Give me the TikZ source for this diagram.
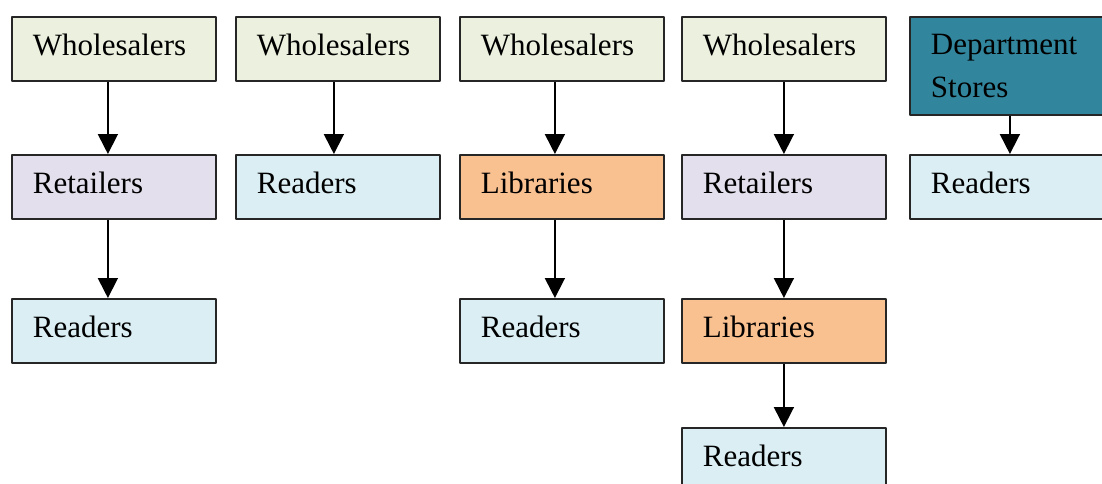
\documentclass[tikz,border=0pt]{standalone}
\usepackage{fontspec}
\setmainfont{Liberation Serif}
\newfontfamily\boxfont{Liberation Serif}
\usetikzlibrary{arrows.meta}
\usetikzlibrary{shapes}
\definecolor{wholefill}{HTML}{EBF1DE}
\definecolor{retailfill}{HTML}{E4DFEC}
\definecolor{readfill}{HTML}{DAEEF3}
\definecolor{libfill}{HTML}{F9C090}
\definecolor{deptfill}{HTML}{31859C}
\tikzset{
  chainbox/.style={draw=black!85,line width=1.8pt,rectangle,anchor=north west,
    minimum width=204pt,minimum height=64pt,inner xsep=21pt,inner ysep=0pt,
    text width=162pt,align=left,font=\boxfont\fontsize{31}{43}\selectfont},
  onebox/.style={chainbox,text height=21.7pt,text depth=7.75pt},
}
\begin{document}
\begin{tikzpicture}[x=1pt,y=-1pt,>={Triangle[width=20pt,length=20pt]},line join=bevel,]
%%
\clip (0,0) rectangle (1102,484);
\node (whole_1) at (11,16) [onebox,fill=wholefill] {Wholesalers};
  \node (retail_1) at (11,154) [onebox,fill=retailfill] {Retailers};
  \node (read_1) at (11,298) [onebox,fill=readfill] {Readers};
  \node (whole_2) at (235,16) [onebox,fill=wholefill] {Wholesalers};
  \node (read_2) at (235,154) [onebox,fill=readfill] {Readers};
  \node (whole_3) at (459,16) [onebox,fill=wholefill] {Wholesalers};
  \node (lib_3) at (459,154) [onebox,fill=libfill] {Libraries};
  \node (read_3) at (459,298) [onebox,fill=readfill] {Readers};
  \node (whole_4) at (681,16) [onebox,fill=wholefill] {Wholesalers};
  \node (retail_4) at (681,154) [onebox,fill=retailfill] {Retailers};
  \node (lib_4) at (681,298) [onebox,fill=libfill] {Libraries};
  \node (read_4) at (681,427) [onebox,fill=readfill] {Readers};
  \node (dept_5) at (909,16) [chainbox,fill=deptfill,minimum height=98pt] {Department\\Stores};
  \node (read_5) at (909,154) [onebox,fill=readfill] {Readers};
  \draw [black,line width=1.8pt,->] ([xshift=-6pt]whole_1.south) -- ([xshift=-6pt]retail_1.north);
  \draw [black,line width=1.8pt,->] ([xshift=-6pt]retail_1.south) -- ([xshift=-6pt]read_1.north);
  \draw [black,line width=1.8pt,->] ([xshift=-4pt]whole_2.south) -- ([xshift=-4pt]read_2.north);
  \draw [black,line width=1.8pt,->] ([xshift=-7pt]whole_3.south) -- ([xshift=-7pt]lib_3.north);
  \draw [black,line width=1.8pt,->] ([xshift=-7pt]lib_3.south) -- ([xshift=-7pt]read_3.north);
  \draw [black,line width=1.8pt,->] (whole_4) -- (retail_4);
  \draw [black,line width=1.8pt,->] (retail_4) -- (lib_4);
  \draw [black,line width=1.8pt,->] (lib_4) -- (read_4);
  \draw [black,line width=1.8pt,->] ([xshift=-2pt]dept_5.south) -- ([xshift=-2pt]read_5.north);
%
\end{tikzpicture}
\end{document}
